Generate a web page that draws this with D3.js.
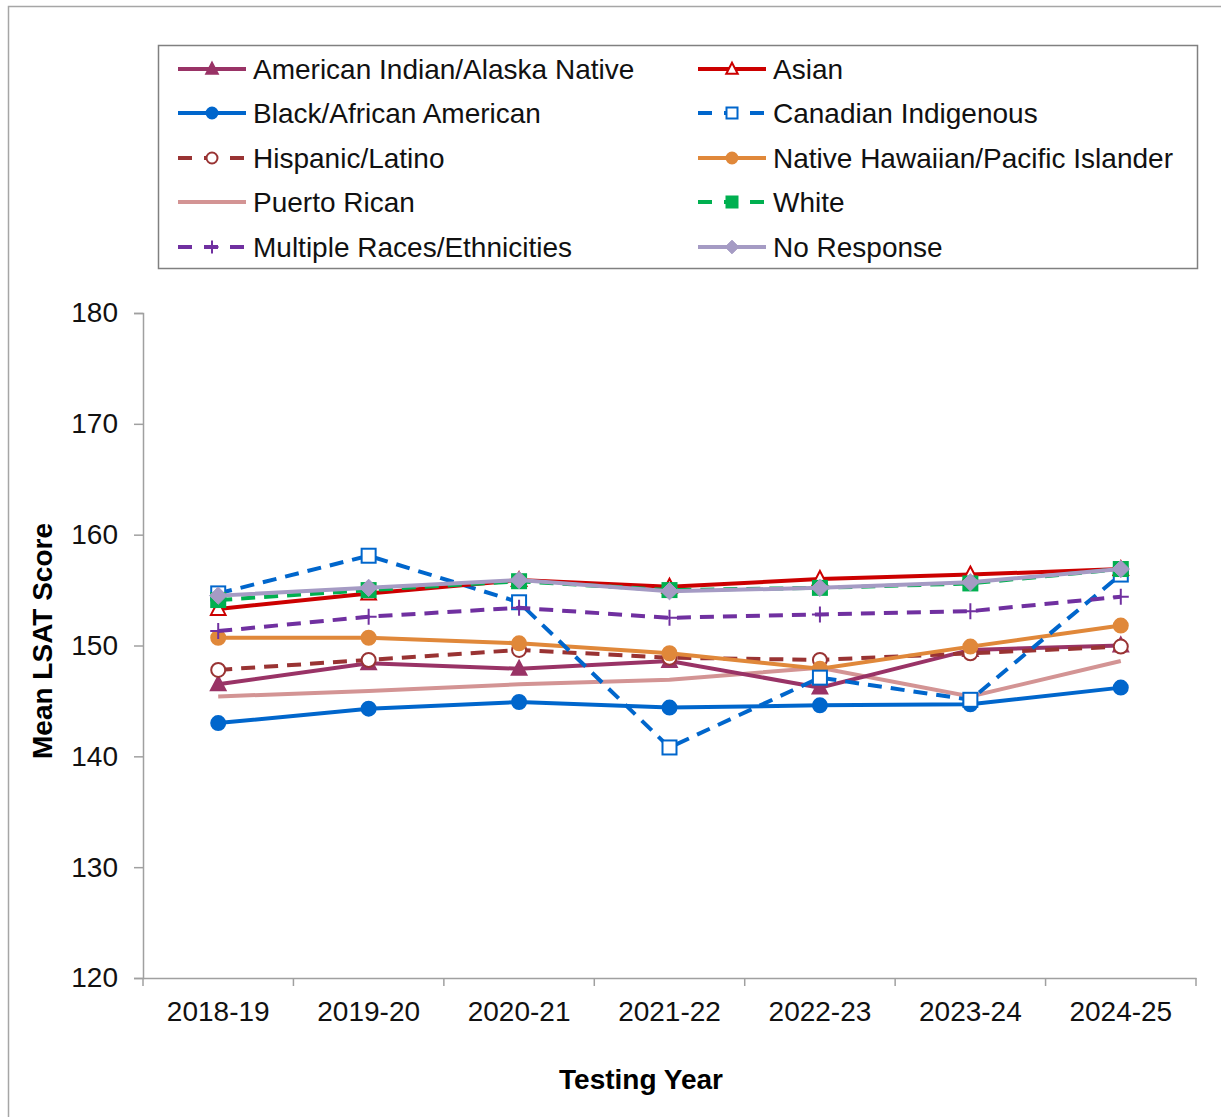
<!DOCTYPE html>
<html>
<head>
<meta charset="utf-8">
<script src="https://cdn.jsdelivr.net/npm/d3@7"></script>
<style>
  body { margin: 0; background: #fff; }
  svg text { font-family: "Liberation Sans", Arial, sans-serif; }
</style>
</head>
<body>
<div id="chart"></div>
<script>
// data
const years = ["2018-19", "2019-20", "2020-21", "2021-22", "2022-23", "2023-24", "2024-25"];
const yTicks = [120, 130, 140, 150, 160, 170, 180];

const aian     = [146.5, 148.4, 147.9, 148.6, 146.2, 149.6, 150.0];
const asian    = [153.3, 154.7, 155.9, 155.3, 156.0, 156.4, 156.9];
const black    = [143.0, 144.3, 144.9, 144.4, 144.6, 144.7, 146.2];
const canadian = [154.7, 158.1, 153.9, 140.8, 147.1, 145.1, 156.4];
const hispanic = [147.8, 148.7, 149.6, 148.9, 148.7, 149.3, 149.9];
const nhpi     = [150.7, 150.7, 150.2, 149.3, 147.9, 149.9, 151.8];
const puerto   = [145.4, 145.9, 146.5, 146.9, 148.0, 145.4, 148.6];
const white    = [154.1, 155.0, 155.8, 155.0, 155.2, 155.6, 156.9];
const multiple = [151.3, 152.6, 153.4, 152.5, 152.8, 153.1, 154.4];
const noResp   = [154.5, 155.2, 155.9, 154.9, 155.2, 155.7, 156.9];

const series = [
    {name: "American Indian/Alaska Native", values: aian, color: "#993366", dash: null, marker: "triUp", fill: true},
    {name: "Asian", values: asian, color: "#CC0000", dash: null, marker: "triUp", fill: false},
    {name: "Black/African American", values: black, color: "#0066CC", dash: null, marker: "circle", fill: true},
    {name: "Canadian Indigenous", values: canadian, color: "#0066CC", dash: "14,9", marker: "square", fill: false},
    {name: "Hispanic/Latino", values: hispanic, color: "#993333", dash: "14,9", marker: "circle", fill: false},
    {name: "Native Hawaiian/Pacific Islander", values: nhpi, color: "#E0883A", dash: null, marker: "circle", fill: true},
    {name: "Puerto Rican", values: puerto, color: "#D39494", dash: null, marker: null, fill: true},
    {name: "White", values: white, color: "#00B050", dash: "14,9", marker: "square", fill: true},
    {name: "Multiple Races/Ethnicities", values: multiple, color: "#7030A0", dash: "14,9", marker: "plus", fill: false},
    {name: "No Response", values: noResp, color: "#A59BC4", dash: null, marker: "diamond", fill: true}
];
// drawing order (back to front)
const drawOrder = [6, 0, 4, 5, 2, 3, 8, 1, 7, 9];

const W = 1221, H = 1117;
const plot = {l: 143, r: 1196, t: 313, b: 978};
const fs = 28;

let svg = d3.select("#chart").append("svg")
    .attr("width", W)
    .attr("height", H);

svg.append("rect").attr("width", W).attr("height", H).attr("fill", "#fff");
//outer frame
svg.append("rect")
    .attr("x", 8.5).attr("y", 6.5)
    .attr("width", W + 20).attr("height", H + 20)
    .attr("fill", "none")
    .attr("stroke", "#a6a6a6")
    .attr("stroke-width", 1.5);

let x = d3.scaleBand().domain(years).range([plot.l, plot.r]);
let y = d3.scaleLinear().domain([120, 180]).range([plot.b, plot.t]);

//axes
let axisX = d3.axisBottom(x).tickSize(0).tickPadding(23);
let gx = svg.append("g")
    .attr("transform", `translate(0,${plot.b})`)
    .call(axisX);
gx.select(".domain").attr("stroke", "#a0a0a0").attr("stroke-width", 1.5);
gx.selectAll("text").attr("font-size", fs).attr("fill", "#111");
// tick marks between categories
let bounds = years.map(d => x(d)).concat([plot.r]);
gx.selectAll(".sep").data(bounds).enter().append("line")
    .attr("x1", d => d).attr("x2", d => d)
    .attr("y1", 0).attr("y2", 8)
    .attr("stroke", "#a0a0a0").attr("stroke-width", 1.5);

let axisY = d3.axisLeft(y).tickValues(yTicks).tickSize(9).tickPadding(16);
let gy = svg.append("g")
    .attr("transform", `translate(${plot.l},0)`)
    .call(axisY);
gy.select(".domain").attr("stroke", "#a0a0a0").attr("stroke-width", 1.5);
gy.selectAll(".tick line").attr("stroke", "#a0a0a0").attr("stroke-width", 1.5);
gy.selectAll("text").attr("font-size", fs).attr("fill", "#111");

//axis titles
svg.append("text")
    .attr("x", 641)
    .attr("y", 1089)
    .attr("text-anchor", "middle")
    .attr("font-size", fs)
    .attr("font-weight", "bold")
    .text("Testing Year");
svg.append("text")
    .attr("transform", `translate(52,${641}) rotate(-90)`)
    .attr("text-anchor", "middle")
    .attr("font-size", fs)
    .attr("font-weight", "bold")
    .text("Mean LSAT Score");

function drawMarker(g, s, cx, cy, size) {
    const fill = s.fill ? s.color : "#fff";
    if (s.marker === "triUp") {
        const h = size * 0.95;
        g.append("path")
            .attr("d", `M${cx},${cy - h * 0.6} L${cx + h * 0.55},${cy + h * 0.45} L${cx - h * 0.55},${cy + h * 0.45} Z`)
            .attr("fill", fill).attr("stroke", s.color).attr("stroke-width", 2);
    } else if (s.marker === "circle") {
        g.append("circle").attr("cx", cx).attr("cy", cy).attr("r", size / 2)
            .attr("fill", fill).attr("stroke", s.color).attr("stroke-width", 2);
    } else if (s.marker === "square") {
        g.append("rect").attr("x", cx - size / 2).attr("y", cy - size / 2)
            .attr("width", size).attr("height", size)
            .attr("fill", fill).attr("stroke", s.color).attr("stroke-width", 2);
    } else if (s.marker === "diamond") {
        const r = size * 0.62;
        g.append("path")
            .attr("d", `M${cx},${cy - r} L${cx + r},${cy} L${cx},${cy + r} L${cx - r},${cy} Z`)
            .attr("fill", fill).attr("stroke", s.color).attr("stroke-width", 1);
    } else if (s.marker === "plus") {
        const r = size / 2 + 1;
        g.append("path")
            .attr("d", `M${cx - r},${cy} H${cx + r} M${cx},${cy - r} V${cy + r}`)
            .attr("stroke", s.color).attr("stroke-width", 2).attr("fill", "none");
    }
}

//lines
let graph = svg.append("g");
let line = d3.line()
    .x((d, i) => x(years[i]) + x.bandwidth() / 2)
    .y(d => y(d));

drawOrder.forEach(function(idx) {
    let s = series[idx];
    let g = graph.append("g");
    g.append("path")
        .datum(s.values)
        .attr("fill", "none")
        .attr("stroke", s.color)
        .attr("stroke-width", 4)
        .attr("stroke-dasharray", s.dash)
        .attr("d", line);
    s.values.forEach(function(v, i) {
        drawMarker(g, s, x(years[i]) + x.bandwidth() / 2, y(v), 14);
    });
});

//legend
let legend = svg.append("g");
legend.append("rect")
    .attr("x", 158.5).attr("y", 45.5)
    .attr("width", 1039).attr("height", 223)
    .attr("fill", "#fff")
    .attr("stroke", "#808080")
    .attr("stroke-width", 1.5);

const colX = [178, 698];
const rowY = [69, 113, 158, 202, 247];
series.forEach(function(s, i) {
    let cx = colX[i % 2];
    let cy = rowY[Math.floor(i / 2)];
    let g = legend.append("g");
    g.append("line")
        .attr("x1", cx).attr("x2", cx + 68)
        .attr("y1", cy).attr("y2", cy)
        .attr("stroke", s.color)
        .attr("stroke-width", 4)
        .attr("stroke-dasharray", s.dash ? "14,12" : null);
    drawMarker(g, s, cx + 34, cy, 11);
    g.append("text")
        .attr("x", cx + 75)
        .attr("y", cy + 10)
        .attr("font-size", fs)
        .attr("fill", "#111")
        .text(s.name);
});
</script>
</body>
</html>
